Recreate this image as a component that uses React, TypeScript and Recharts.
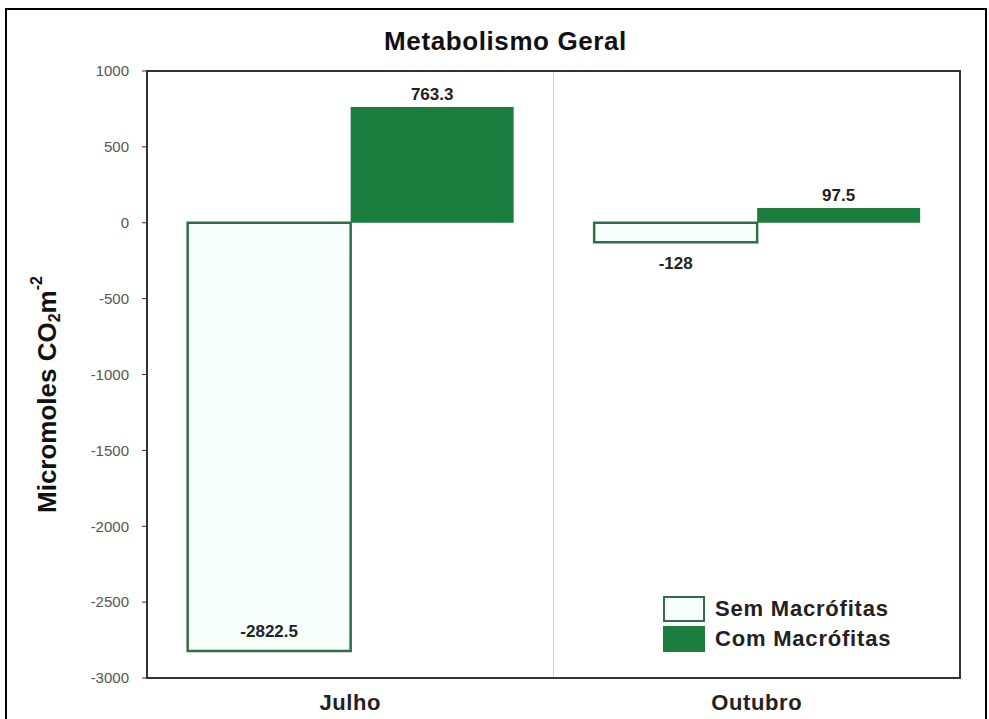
import React from 'react';
import { BarChart, Bar, XAxis, YAxis, CartesianGrid, LabelList, Legend, ReferenceArea } from 'recharts';

const months = ['Julho', 'Outubro'];
const semMacrofitas = [-2822.5, -128];
const comMacrofitas = [763.3, 97.5];
const yTicks = [1000, 500, 0, -500, -1000, -1500, -2000, -2500, -3000];

const GREEN = '#1b7d3e';
const OUTLINE = '#2f6e48';
const FONT = 'Liberation Sans, Arial, sans-serif';

const data = months.map((month, i) => ({
  month,
  sem: semMacrofitas[i],
  com: comMacrofitas[i],
}));

// value label: above positive bars, inside tall negative bars, below short ones
const ValueLabel = (props: any) => {
  const { x, y, width, height, value } = props;
  const top = Math.min(y, y + height);
  const bottom = Math.max(y, y + height);
  const cx = x + width / 2;
  let ty: number;
  if (value >= 0) ty = top - 12;
  else if (bottom - top > 60) ty = bottom - 20;
  else ty = bottom + 21;
  return (
    <text
      x={cx}
      y={ty}
      textAnchor="middle"
      dominantBaseline="central"
      fontSize={17}
      fontWeight="bold"
      fill="#222"
      fontFamily={FONT}
    >
      {value}
    </text>
  );
};

const YLabel = (props: any) => {
  const vb = props.viewBox;
  const cy = vb.y + vb.height / 2 + 20;
  const cx = 47;
  return (
    <text
      x={cx}
      y={cy}
      transform={`rotate(-90, ${cx}, ${cy})`}
      textAnchor="middle"
      dominantBaseline="central"
      fontSize={26}
      fontWeight="bold"
      fill="#111"
      fontFamily={FONT}
    >
      Micromoles CO
      <tspan fontSize={16} dy={7}>2</tspan>
      <tspan dy={-7}>m</tspan>
      <tspan fontSize={16} dy={-11}>-2</tspan>
    </text>
  );
};

const LegendBox = () => (
  <div style={{ fontFamily: FONT, fontWeight: 'bold', fontSize: 22, letterSpacing: 0.8, color: '#222', lineHeight: '26px' }}>
    <div style={{ display: 'flex', alignItems: 'center', marginBottom: 4 }}>
      <span
        style={{
          width: 38,
          height: 22,
          border: `2px solid ${OUTLINE}`,
          background: '#f7fffd',
          marginRight: 10,
          display: 'inline-block',
        }}
      />
      Sem Macrófitas
    </div>
    <div style={{ display: 'flex', alignItems: 'center' }}>
      <span style={{ width: 42, height: 26, background: GREEN, marginRight: 10, display: 'inline-block' }} />
      Com Macrófitas
    </div>
  </div>
);

const NoTick = () => <g />;

export default function App() {
  return (
    <div style={{ position: 'absolute', left: 0, top: 0, width: 989, height: 719, overflow: 'hidden', background: '#fff' }}>
      <div style={{ position: 'absolute', left: 5, top: 8, width: 978, height: 730, border: '2px solid #000' }} />
      <div
        style={{
          position: 'absolute',
          left: 0,
          width: 989,
          top: 26,
          textAlign: 'center',
          fontFamily: FONT,
          fontWeight: 'bold',
          fontSize: 26,
          letterSpacing: 0.6,
          color: '#111',
          paddingLeft: 22,
          boxSizing: 'border-box',
        }}
      >
        Metabolismo Geral
      </div>
      <div style={{ position: 'absolute', left: 0, top: 0 }}>
        <BarChart
          width={989}
          height={719}
          data={data}
          margin={{ top: 71, right: 29, bottom: 0, left: 47 }}
          barGap={0}
          barCategoryGap="10%"
        >
          <CartesianGrid
            horizontal={false}
            stroke="#d2d2d2"
            verticalCoordinatesGenerator={({ offset }: any) => [offset.left + offset.width / 2]}
          />
          <XAxis
            dataKey="month"
            height={41}
            axisLine={{ stroke: '#333', strokeWidth: 2 }}
            tickLine={false}
            tick={{ fontSize: 22, fontWeight: 'bold', fill: '#222', fontFamily: FONT, letterSpacing: 0.6 }}
            dy={8}
          />
          <YAxis
            width={100}
            domain={[-3000, 1000]}
            ticks={yTicks}
            interval={0}
            allowDataOverflow
            axisLine={{ stroke: '#333', strokeWidth: 2 }}
            tickLine={{ stroke: '#333' }}
            tickSize={5}
            tickMargin={13}
            tick={{ fontSize: 15, fill: '#555', fontFamily: FONT }}
            label={<YLabel />}
          />
          <YAxis
            yAxisId="right"
            orientation="right"
            width={1}
            domain={[-3000, 1000]}
            ticks={yTicks}
            interval={0}
            mirror
            tick={<NoTick />}
            tickLine={{ stroke: '#333' }}
            tickSize={4}
            axisLine={false}
          />
          <ReferenceArea y1={1000} y2={-3000} fill="none" stroke="#333" strokeWidth={2} ifOverflow="visible" />
          <Legend
            layout="vertical"
            verticalAlign="middle"
            align="center"
            wrapperStyle={{ left: 663, top: 596, width: 280 }}
            content={<LegendBox />}
          />
          <Bar dataKey="sem" name="Sem Macrófitas" fill="#f7fffd" stroke={OUTLINE} strokeWidth={2.5} isAnimationActive={false}>
            <LabelList dataKey="sem" content={<ValueLabel />} />
          </Bar>
          <Bar dataKey="com" name="Com Macrófitas" fill={GREEN} isAnimationActive={false}>
            <LabelList dataKey="com" content={<ValueLabel />} />
          </Bar>
        </BarChart>
      </div>
    </div>
  );
}
